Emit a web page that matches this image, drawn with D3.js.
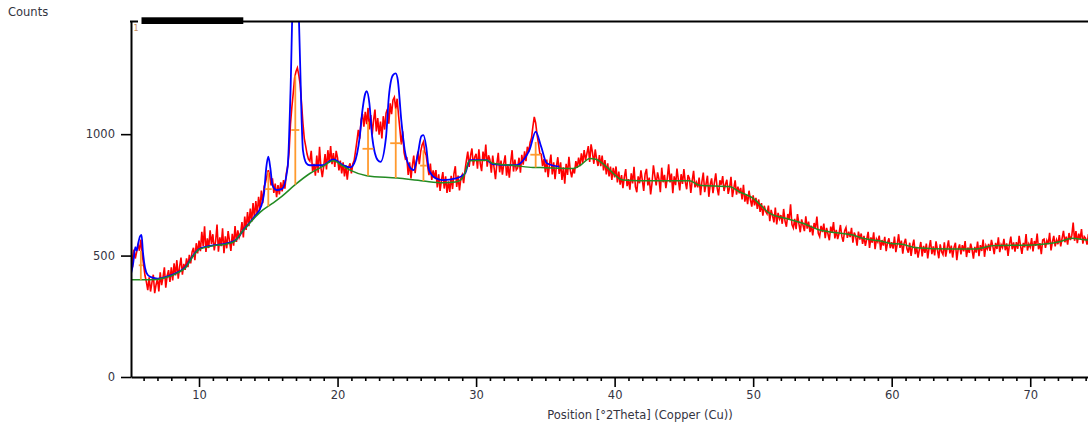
<!DOCTYPE html>
<html>
<head>
<meta charset="utf-8">
<script src="https://cdn.jsdelivr.net/npm/d3@7"></script>
<style>
  body { margin: 0; background: #fff; }
  text { font-family: "DejaVu Sans", sans-serif; fill: #34343f; }
</style>
</head>
<body>
<script>
"use strict";

var obsStart = 5.0, obsStep = 0.1;
var obsCounts = [
  468, 540, 452, 525, 488, 515, 548, 520, 566, 505,
  462, 418, 392, 358, 410, 352, 389, 421, 345, 380,
  405, 352, 431, 378, 410, 452, 368, 416, 440, 392,
  452, 398, 468, 418, 481, 405, 455, 492, 421, 466,
  441, 489, 452, 503, 468, 515, 532, 481, 551, 509,
  562, 518, 598, 539, 621, 515, 571, 531, 604, 548,
  588, 521, 560, 628, 516, 575, 539, 612, 510, 579,
  530, 601, 562, 519, 590, 541, 622, 556, 604, 575,
  592, 638, 575, 661, 606, 679, 621, 694, 640, 716,
  655, 724, 668, 742, 690, 768, 716, 785, 801, 828,
  852, 831, 789, 818, 758, 796, 741, 790, 752, 802,
  764, 811, 776, 838, 868, 925, 1040, 1110, 1168, 1232,
  1258, 1273, 1244, 1205, 1128, 1046, 982, 951, 918, 897,
  889, 931, 846, 878, 829, 912, 841, 948, 861, 823,
  868, 918, 855, 934, 882, 951, 876, 922, 865, 931,
  902, 851, 891, 838, 884, 826, 872, 813, 864, 880,
  838, 877, 892, 931, 972, 1018, 981, 1059, 1083, 1031,
  1092, 1041, 1108, 1019, 1079, 998, 1057, 1101, 1011, 1066,
  998, 1052, 982, 1074, 1019, 1086, 1104, 1043, 1127, 1082,
  1141, 1152, 1103, 1146, 1079, 1021, 958, 1012, 925, 897,
  901, 832, 884, 818, 871, 912, 839, 889, 928, 876,
  928, 955, 968, 926, 912, 868, 831, 879, 812, 851,
  819, 852, 781, 835, 766, 811, 844, 776, 826, 758,
  806, 762, 828, 774, 837, 868, 783, 829, 768, 818,
  833, 798, 851, 892, 928, 865, 912, 941, 870, 905,
  919, 858, 938, 879, 848, 928, 889, 957, 866, 913,
  894, 841, 912, 861, 815, 879, 923, 843, 891, 833,
  880, 913, 829, 871, 821, 886, 934, 846, 895, 853,
  861, 903, 841, 915, 874, 929, 889, 948, 926, 966,
  984, 1031, 1071, 1046, 998, 962, 921, 917, 868, 897,
  843, 895, 823, 876, 916, 834, 884, 815, 868, 905,
  836, 884, 812, 863, 796, 878, 832, 907, 851, 822,
  859, 838, 889, 861, 903, 868, 921, 882, 934, 893,
  921, 951, 886, 958, 925, 878, 937, 897, 869, 914,
  868, 912, 851, 893, 834, 880, 826, 866, 812, 861,
  822, 867, 801, 846, 792, 831, 778, 823, 856, 786,
  815, 771, 839, 797, 866, 784, 761, 826, 798, 851,
  811, 766, 836, 857, 789, 821, 752, 799, 872, 829,
  789, 843, 815, 761, 862, 802, 832, 778, 818, 876,
  801, 838, 757, 826, 790, 858, 812, 768, 835, 795,
  856, 803, 773, 832, 818, 758, 809, 849, 781, 801,
  781, 821, 749, 804, 842, 761, 795, 829, 742, 792,
  818, 757, 799, 839, 779, 748, 810, 792, 827, 766,
  793, 812, 754, 781, 824, 741, 776, 810, 751, 784,
  756, 779, 731, 791, 722, 752, 712, 767, 731, 702,
  748, 707, 738, 692, 731, 680, 716, 664, 705, 683,
  672, 706, 642, 688, 664, 637, 698, 628, 676, 651,
  667, 631, 692, 642, 619, 671, 648, 711, 628, 614,
  651, 609, 671, 632, 596, 649, 625, 601, 662, 611,
  640, 597, 623, 583, 634, 612, 661, 592, 578, 622,
  597, 632, 572, 614, 589, 563, 619, 597, 638, 571,
  606, 568, 591, 626, 579, 557, 601, 615, 573, 598,
  576, 614, 553, 595, 580, 541, 599, 566, 591, 548,
  581, 540, 568, 598, 532, 575, 553, 596, 526, 568,
  556, 582, 523, 564, 541, 577, 518, 553, 571, 531,
  555, 529, 578, 514, 546, 588, 532, 562, 508, 551,
  569, 528, 512, 553, 499, 540, 566, 506, 536, 492,
  527, 556, 497, 540, 511, 549, 488, 532, 564, 506,
  538, 501, 559, 524, 489, 546, 516, 504, 555, 496,
  531, 563, 509, 541, 492, 534, 553, 481, 527, 546,
  505, 543, 517, 560, 494, 533, 511, 549, 525, 487,
  536, 512, 558, 498, 543, 519, 566, 495, 541, 527,
  548, 519, 565, 539, 506, 552, 527, 575, 514, 545,
  533, 569, 522, 550, 499, 547, 578, 526, 554, 516,
  555, 528, 581, 540, 507, 552, 534, 589, 521, 548,
  535, 572, 517, 560, 540, 591, 526, 551, 506, 564,
  568, 532, 562, 547, 594, 521, 556, 581, 538, 565,
  547, 584, 538, 571, 602, 555, 578, 545, 593, 564,
  582, 636, 561, 601, 551, 590, 568, 609, 549, 578,
  571, 545, 588, 558, 598, 550, 573, 539, 582, 563
];

// background (green)
var bgPos = [5.0, 6.0, 7.0, 7.5, 8.5, 9.0, 9.6, 10.0, 11.0, 12.0, 12.6, 13.0, 13.3, 14.0, 14.4,
  15.3, 16.0, 16.9, 18.0, 18.9, 19.7, 20.4, 20.9, 22.1, 24.3, 26.2, 27.6, 28.5, 28.9, 29.2,
  29.5, 30.8, 31.2, 32.9, 34.1, 35.0, 36.0, 37.0, 37.6, 38.2, 38.7, 39.4, 40.6, 41.8, 45.4,
  46.1, 48.3, 49.0, 50.0, 51.2, 52.4, 53.6, 54.8, 56.0, 57.2, 57.9, 59.1, 60.1, 60.6, 61.8,
  64.2, 66.1, 67.3, 70.2, 72.1, 73.0, 74.1, 74.6];
var bgCounts = [400, 400, 402, 408, 430, 449, 500, 525, 540, 548, 560, 590, 610, 655, 678,
  715, 745, 790, 838, 866, 890, 868, 852, 829, 819, 807, 800, 803, 812, 840,
  890, 893, 880, 870, 863, 862, 860, 859, 875, 900, 896, 866, 811, 808, 808,
  790, 784, 763, 736, 674, 653, 633, 605, 594, 585, 571, 561, 549, 548, 532,
  527, 527, 541, 544, 557, 571, 564, 562];

// calculated profile (blue)
var calcPos = [5.0, 5.25, 5.4, 5.5, 5.6, 5.75, 5.85, 5.95, 6.1, 6.3, 6.6, 7.0, 7.5, 8.5, 9.0,
  9.6, 10.0, 11.0, 12.0, 12.6, 13.3, 14.0, 14.5, 14.7, 14.85, 15.0, 15.15, 15.3, 15.6, 16.0,
  16.4, 16.6, 16.8, 17.0, 17.2, 17.4, 17.5, 17.75, 18.0, 18.9, 19.7, 20.4, 20.9, 21.2, 21.6,
  21.8, 22.0, 22.1, 22.3, 22.5, 22.9, 23.1, 23.5, 23.7, 24.0, 24.2, 24.35, 24.6, 24.85, 25.2,
  25.5, 25.8, 26.05, 26.2, 26.4, 26.6, 27.1, 27.6, 28.55, 29.2, 29.55, 30.75, 31.2, 32.9, 33.5,
  33.85, 34.3, 34.7, 35.1, 36.0];
var calcCounts = [405, 470, 535, 520, 548, 580, 585, 515, 450, 420, 410, 405, 410, 432, 451,
  502, 527, 542, 550, 562, 612, 660, 705, 760, 860, 907, 860, 790, 770, 775,
  866, 1168, 1600, 1660, 1500, 1071, 934, 880, 872, 872, 896, 872, 863, 880, 989,
  1100, 1167, 1177, 1126, 989, 893, 886, 989, 1153, 1243, 1250, 1222, 1058, 934, 866,
  852, 920, 992, 996, 948, 852, 818, 811, 818, 838, 893, 893, 877, 872, 900,
  934, 1010, 948, 880, 866];

// fitted peak sticks (orange): position, top, width (FWHM)
var peakPos = [5.8, 15.0, 16.95, 22.2, 24.2, 26.2, 34.3];
var peakTop = [520, 845, 1242, 1051, 1106, 934, 968];
var peakFwhm = [0.3, 0.5, 0.58, 0.8, 0.8, 0.48, 0.77];

var xTicks = [10, 20, 30, 40, 50, 60, 70];
var yTicks = [0, 500, 1000];

var drawScan = function() {
  var width = 1088, height = 426;
  var plotLeft = 131, plotTop = 21, plotBottom = 377;

  var svg = d3.select("body").append("svg")
      .attr("width", width)
      .attr("height", height);

  var x = d3.scaleLinear().domain([5.09, 74.17]).range([plotLeft, width]);
  var y = d3.scaleLinear().domain([0, 1466]).range([plotBottom, plotTop]);

  // background level at a given angle, for the stick bases
  var bgAt = function(p) {
    var i = d3.bisectRight(bgPos, p);
    var t = (p - bgPos[i - 1]) / (bgPos[i] - bgPos[i - 1]);
    return bgCounts[i - 1] + t * (bgCounts[i] - bgCounts[i - 1]);
  };

  svg.append("clipPath").attr("id", "plot")
    .append("rect")
      .attr("x", plotLeft).attr("y", plotTop)
      .attr("width", width - plotLeft).attr("height", plotBottom - plotTop);

  var plot = svg.append("g").attr("clip-path", "url(#plot)");

  // observed
  plot.append("path")
      .datum(obsCounts)
      .attr("fill", "none")
      .attr("stroke", "#ff0000")
      .attr("stroke-width", 1.6)
      .attr("d", d3.line()
        .x(function(d, i) { return x(obsStart + i * obsStep); })
        .y(function(d) { return y(d); }));

  // calculated
  plot.append("path")
      .datum(d3.zip(calcPos, calcCounts))
      .attr("fill", "none")
      .attr("stroke", "#0000ff")
      .attr("stroke-width", 1.8)
      .attr("d", d3.line()
        .curve(d3.curveMonotoneX)
        .x(function(d) { return x(d[0]); })
        .y(function(d) { return y(d[1]); }));

  // background
  plot.append("path")
      .datum(d3.zip(bgPos, bgCounts))
      .attr("fill", "none")
      .attr("stroke", "#228b22")
      .attr("stroke-width", 1.5)
      .attr("d", d3.line()
        .curve(d3.curveMonotoneX)
        .x(function(d) { return x(d[0]); })
        .y(function(d) { return y(d[1]); }));

  // peak sticks with a half-height bar
  var sticks = plot.selectAll("g.stick")
      .data(peakPos.map(function(p, i) {
        return { pos: p, top: peakTop[i], base: bgAt(p), fwhm: peakFwhm[i] };
      }))
    .enter().append("g")
      .attr("class", "stick")
      .attr("stroke", "#ff9a2e")
      .attr("stroke-width", 1.8);

  sticks.append("line")
      .attr("x1", function(d) { return x(d.pos); })
      .attr("x2", function(d) { return x(d.pos); })
      .attr("y1", function(d) { return y(d.base); })
      .attr("y2", function(d) { return y(d.top); });

  sticks.append("line")
      .attr("x1", function(d) { return x(d.pos - d.fwhm / 2); })
      .attr("x2", function(d) { return x(d.pos + d.fwhm / 2); })
      .attr("y1", function(d) { return y((d.base + d.top) / 2); })
      .attr("y2", function(d) { return y((d.base + d.top) / 2); });

  // axes
  svg.append("g")
      .attr("transform", "translate(0," + plotBottom + ")")
      .call(d3.axisBottom(x).tickValues(xTicks).tickSize(10).tickSizeOuter(0)
        .tickPadding(4).tickFormat(d3.format("d")));

  svg.append("g")
      .attr("transform", "translate(0," + plotBottom + ")")
      .call(d3.axisBottom(x).tickValues(d3.range(6, 75).filter(function(d) { return d % 10; }))
        .tickSize(4).tickSizeOuter(0).tickFormat(""))
      .select(".domain").remove();

  svg.append("g")
      .attr("transform", "translate(" + plotLeft + ",0)")
      .call(d3.axisLeft(y).tickValues(yTicks).tickSize(10).tickSizeOuter(0)
        .tickPadding(6).tickFormat(d3.format("d")));

  svg.selectAll(".domain").attr("stroke", "#000").attr("stroke-width", 2);
  svg.selectAll(".tick line").attr("stroke", "#000").attr("stroke-width", 1.6);
  svg.selectAll(".tick text")
      .attr("font-family", "DejaVu Sans")
      .attr("font-size", 11.5)
      .attr("fill", "#34343f");

  // top frame: short hook, thick bar, thin line
  svg.append("line")
      .attr("x1", plotLeft - 1).attr("x2", 138).attr("y1", plotTop + 0.5).attr("y2", plotTop + 0.5)
      .attr("stroke", "#000").attr("stroke-width", 2);
  svg.append("rect")
      .attr("x", 141.5).attr("y", 17.3).attr("width", 101.8).attr("height", 6.7)
      .attr("fill", "#000");
  svg.append("line")
      .attr("x1", 243).attr("x2", width).attr("y1", plotTop + 0.5).attr("y2", plotTop + 0.5)
      .attr("stroke", "#000").attr("stroke-width", 2);

  svg.append("text")
      .attr("x", 133.5).attr("y", 31)
      .attr("font-size", 8)
      .style("fill", "#c89060")
      .text("1");

  svg.append("text")
      .attr("x", 8).attr("y", 16)
      .attr("font-size", 11.5)
      .text("Counts");

  svg.append("text")
      .attr("x", 640).attr("y", 419)
      .attr("text-anchor", "middle")
      .attr("font-size", 11.5)
      .text("Position [°2Theta] (Copper (Cu))");
};

drawScan();
</script>
</body>
</html>
